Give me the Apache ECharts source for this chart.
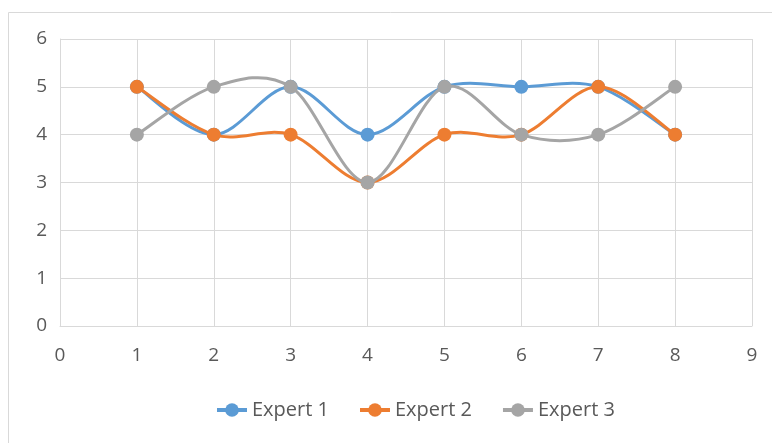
<!DOCTYPE html>
<html><head><meta charset="utf-8">
<script src="https://cdn.jsdelivr.net/npm/echarts@6/dist/echarts.min.js"></script>
<style>html,body{margin:0;padding:0;background:#fff}#c{width:772px;height:443px}</style>
</head><body><div id="c"></div>
<script>
const xValues = [1, 2, 3, 4, 5, 6, 7, 8];
const expert1 = [5, 4, 5, 4, 5, 5, 5, 4];
const expert2 = [5, 4, 4, 3, 4, 4, 5, 4];
const expert3 = [4, 5, 5, 3, 5, 4, 4, 5];
const seriesNames = ['Expert 1', 'Expert 2', 'Expert 3'];
const colors = ['#5B9BD5', '#ED7D31', '#A5A5A5'];
const font = 'Open Sans, Liberation Sans, sans-serif';

const chart = echarts.init(document.getElementById('c'));

// Excel-like smoothed segment drawn with the axes' own coordinate conversion
function smoothSeries(name, vals, i) {
  const pts = xValues.map((x, k) => [x, vals[k]]);
  return {
    name, type: 'custom', z: 2 + 2 * i, silent: true,
    data: pts, encode: { x: 0, y: 1 },
    renderItem: function (params, api) {
      const k = params.dataIndex;
      if (k >= pts.length - 1) return null;
      const p0 = api.coord(pts[Math.max(k - 1, 0)]);
      const p1 = api.coord(pts[k]);
      const p2 = api.coord(pts[k + 1]);
      const p3 = api.coord(pts[Math.min(k + 2, pts.length - 1)]);
      return {
        type: 'bezierCurve',
        shape: {
          x1: p1[0], y1: p1[1], x2: p2[0], y2: p2[1],
          cpx1: p1[0] + (p2[0] - p0[0]) / 6, cpy1: p1[1] + (p2[1] - p0[1]) / 6,
          cpx2: p2[0] - (p3[0] - p1[0]) / 6, cpy2: p2[1] - (p3[1] - p1[1]) / 6
        },
        style: { stroke: colors[i], lineWidth: 3, fill: null, lineCap: 'round' }
      };
    }
  };
}
function markerSeries(name, vals, i) {
  return {
    name, type: 'line', z: 3 + 2 * i,
    data: xValues.map((x, k) => [x, vals[k]]),
    symbol: 'circle', symbolSize: 14,
    lineStyle: { width: 3, opacity: 0, color: colors[i] },
    itemStyle: { color: colors[i] }
  };
}
const series = [];
seriesNames.forEach((n, i) => series.push(markerSeries(n, [expert1, expert2, expert3][i], i)));
seriesNames.forEach((n, i) => series.push(smoothSeries(n, [expert1, expert2, expert3][i], i)));

chart.setOption({
  animation: false,
  color: colors,
  graphic: [{ type: 'rect', shape: { x: 8.5, y: 12.5, width: 800, height: 500 },
    style: { fill: 'none', stroke: '#D9D9D9', lineWidth: 1 }, silent: true }],
  grid: { left: 60, right: 20, top: 39, bottom: 117 },
  xAxis: { type: 'value', min: 0, max: 9, interval: 1,
    axisLine: { show: true, lineStyle: { color: '#D9D9D9', width: 1 } },
    axisTick: { show: false },
    splitLine: { show: true, lineStyle: { color: '#D9D9D9', width: 1 } },
    axisLabel: { color: '#595959', fontSize: 19, fontFamily: font, margin: 20 } },
  yAxis: { type: 'value', min: 0, max: 6, interval: 1,
    axisLine: { show: true, lineStyle: { color: '#D9D9D9', width: 1 } },
    axisTick: { show: false },
    splitLine: { show: true, lineStyle: { color: '#D9D9D9', width: 1 } },
    axisLabel: { color: '#595959', fontSize: 19, fontFamily: font, margin: 13 } },
  legend: { bottom: 18, left: 210, itemWidth: 30, itemHeight: 17, itemGap: 29,
    textStyle: { color: '#595959', fontSize: 20, fontFamily: font },
    data: seriesNames.map((n, i) => ({ name: n,
      lineStyle: { opacity: 1, width: 4, color: colors[i] },
      itemStyle: { color: colors[i] } })) },
  series
});
</script></body></html>
